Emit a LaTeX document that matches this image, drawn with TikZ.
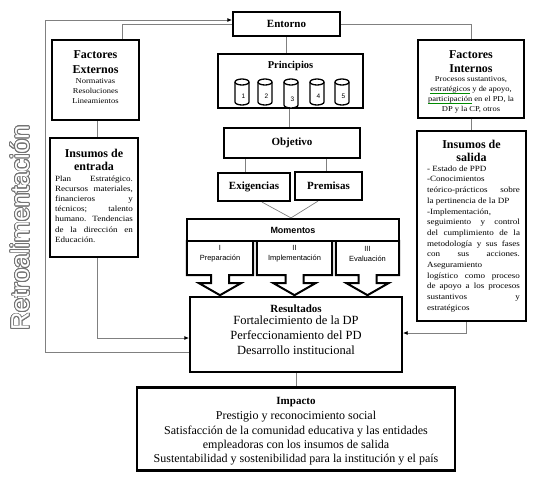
\documentclass[tikz,border=0pt]{standalone}
\usepackage{fontspec}
\setmainfont{Liberation Serif}
\newfontfamily\arial{Liberation Sans}
\newfontfamily\bodyfont[FakeStretch=1.13]{Liberation Serif}
\usepackage[copies]{contour}
\usetikzlibrary{arrows.meta}
\newsavebox\spellbox
\newcommand\spellul[1]{\sbox\spellbox{#1}\rlap{\color{green!55!black}\rule[-1.6pt]{\wd\spellbox}{0.5pt}}\usebox\spellbox}
\contourlength{0.75pt}
\contournumber{24}
\begin{document}
\begin{tikzpicture}[x=1pt,y=-1pt,
  box/.style={draw, line width=2.2pt, fill=white, inner sep=0pt},
  slot/.style={inner sep=0pt},
  cal/.style={draw, line width=2pt, fill=white, line join=miter},
  conn/.style={draw=black!50, line width=0.7pt},
  arr/.style={conn, -{Latex[length=4.5pt,width=4pt,color=black]}},
  lbl/.style={inner sep=1pt, align=center},
  ttl/.style={lbl, font=\bfseries\fontsize{12}{14}\selectfont},
  small/.style={lbl, font=\bodyfont\fontsize{7.5}{10}\selectfont},
  body/.style={inner sep=0pt, align=justify, font=\bodyfont\fontsize{8}{10.2}\selectfont},
]
\useasboundingbox (0,0) rectangle (544,482);

\node[box, minimum width=107pt, minimum height=24pt] (ent) at (286.5,24) {};
\node[box, minimum width=87pt, minimum height=80pt] (fe) at (95.5,80) {};
\node[box, minimum width=106pt, minimum height=78pt] (fi) at (471,79) {};
\node[box, minimum width=145pt, minimum height=54pt] (pri) at (290.5,81) {};
\node[box, minimum width=136pt, minimum height=30pt] (obj) at (292,143) {};
\node[box, minimum width=72pt, minimum height=28pt] (exi) at (254,187) {};
\node[box, minimum width=67pt, minimum height=28pt] (pre) at (328.5,186) {};
\node[box, minimum width=88pt, minimum height=119pt] (ie) at (94,197.5) {};
\node[box, minimum width=109pt, minimum height=190pt] (is) at (471.5,226) {};
\node[box, minimum width=212pt, minimum height=75pt] (res) at (296,334.5) {};
\node[box, minimum width=318pt, minimum height=83pt] (imp) at (296,429) {};

% callouts of Momentos
\node[slot, minimum width=66pt, minimum height=34pt] (c1) at (220,258) {};
\node[slot, minimum width=75pt, minimum height=34pt] (c2) at (294.5,258) {};
\node[slot, minimum width=63pt, minimum height=34pt] (c3) at (367.5,258) {};
\foreach \c in {c1,c2,c3}
  \draw[cal] (\c.north west) -- (\c.north east) -- (\c.south east)
    -- ([xshift=9pt]\c.south) -- ++(0,8) -- ++(12,0) -- ++(-21,12)
    -- ++(-21,-12) -- ++(12,0) -- ++(0,-8) -- (\c.south west) -- cycle;
\node[box, minimum width=212pt, minimum height=22pt] (mom) at (293,230) {};

% connectors
\draw[arr] (res.west |- 0,352) -| (45,20) -- (ent.west |- 0,20);
\draw[conn] (fe.north -| 122,0) |- (ent.west |- 0,24);
\draw[conn] (ent.east) -| (fi.north);
\draw[conn] (ent.south) -- (ent.south |- pri.north);
\draw[conn] (pri.south -| 289,0) -- (obj.north -| 289,0);
\draw[conn] (obj.south -| 245,0) -- (exi.north -| 245,0);
\draw[conn] (obj.south -| 326,0) -- (pre.north -| 326,0);
\draw[conn] (exi.south -| 262,0) -- (mom.north -| 291,0);
\draw[conn] (pre.south -| 318,0) -- (mom.north -| 291,0);
\draw[conn] (fe.south -| 97,0) -- (ie.north -| 97,0);
\draw[arr] (ie.south -| 97,0) |- (res.west |- 0,338);
\draw[conn] (fi.south) -- (fi.south |- is.north);
\draw[arr] (is.south -| 466,0) |- (res.east |- 0,333);
\draw[conn] (res.south) -- (res.south |- imp.north);

% cylinders in Principios
\foreach \n/\x/\b in {1/242/102,2/265/102,3/291/105,4/317/102,5/342/102}{
  \draw[line width=1.3pt, fill=white] (\x-7,82) -- (\x-7,\b)
     arc[start angle=180, end angle=0, x radius=7, y radius=3] -- (\x+7,82);
  \draw[line width=1.3pt, fill=white] (\x,82) ellipse[x radius=7, y radius=3];
  \node[inner sep=0pt, font=\arial\fontsize{6.5}{7}\selectfont] (n\n) at (\x+1.5,\b-6) {\n};
}

% ---------- texts ----------
\node[lbl, font=\bfseries\fontsize{11}{13}\selectfont] (entT) at (ent) {Entorno};

\node[ttl, anchor=north, font=\bfseries\fontsize{12}{15}\selectfont] (feT) at ([yshift=-11pt]fe.north) {Factores\\Externos};
\node[small, anchor=north] (feB) at ([yshift=-2pt]feT.south) {Normativas\\Resoluciones\\Lineamientos};

\node[ttl, anchor=north] (fiT) at ([yshift=-11pt]fi.north) {Factores\\Internos};
\node[small, anchor=north] (fiB) at ([yshift=-1pt]fiT.south) {Procesos sustantivos,\\\spellul{estratégicos} y de apoyo,\\\spellul{participación} en el PD, la\\DP y la CP, otros};

\node[lbl, font=\bfseries\fontsize{10.5}{12}\selectfont] (priT) at (290.5,66) {Principios};
\node[lbl, font=\bfseries\fontsize{11}{13}\selectfont] (objT) at (obj) {Objetivo};
\node[lbl, font=\bfseries\fontsize{11}{13}\selectfont] (exiT) at (exi) {Exigencias};
\node[lbl, font=\bfseries\fontsize{11}{13}\selectfont] (preT) at (pre) {Premisas};

\node[lbl, font=\arial\bfseries\fontsize{9}{11}\selectfont] (momT) at (mom) {Momentos};
\node[lbl, font=\arial\fontsize{7.5}{10}\selectfont] (c1T) at ([yshift=4pt]c1.center) {I\\Preparación};
\node[lbl, font=\arial\fontsize{7.5}{10}\selectfont] (c2T) at ([yshift=4pt]c2.center) {II\\Implementación};
\node[lbl, font=\arial\fontsize{7.5}{10}\selectfont] (c3T) at ([yshift=4pt]c3.center) {III\\Evaluación};

\node[ttl, anchor=north, font=\bfseries\fontsize{12}{13.5}\selectfont] (ieT) at ([yshift=-11pt]ie.north) {Insumos de\\entrada};
\node[body, anchor=north, text width=78pt] (ieB) at ([yshift=-3pt]ieT.south) {\hyphenpenalty=10000 \exhyphenpenalty=10000
Plan Estratégico.\linebreak
Recursos materiales,\linebreak
financieros y\linebreak
técnicos; talento\linebreak
humano. Tendencias\linebreak
de la dirección en\linebreak
Educación.};

\node[ttl, anchor=north, font=\bfseries\fontsize{12}{12.8}\selectfont] (isT) at ([yshift=-9pt]is.north) {Insumos de\\salida};
\node[body, anchor=north, text width=93pt, font=\bodyfont\fontsize{8}{10.7}\selectfont] (isB) at ([xshift=2pt,yshift=-3pt]isT.south) {\hyphenpenalty=10000 \exhyphenpenalty=10000
- Estado de PPD\newline
-Conocimientos\newline
teórico-prácticos sobre\linebreak
la pertinencia de la DP\newline
-Implementación,\newline
seguimiento y control\linebreak
del cumplimiento de la\linebreak
metodología y sus fases\linebreak
con sus acciones.\linebreak
Aseguramiento\newline
logístico como proceso\linebreak
de apoyo a los procesos\linebreak
sustantivos y\linebreak
estratégicos};

\node[lbl, anchor=north, font=\bfseries\fontsize{11}{13}\selectfont] (resT) at ([yshift=-8pt]res.north) {Resultados};
\node[lbl, anchor=north, font=\fontsize{12.5}{14.7}\selectfont] (resB) at ([yshift=-1pt]resT.south) {Fortalecimiento de la DP\\Perfeccionamiento del PD\\Desarrollo institucional};

\node[lbl, anchor=north, font=\bfseries\fontsize{11}{13}\selectfont] (impT) at ([yshift=-10pt]imp.north) {Impacto};
\node[lbl, anchor=north, font=\fontsize{12}{14.2}\selectfont] (impB) at ([yshift=-2pt]impT.south) {Prestigio y reconocimiento social\\Satisfacción de la comunidad educativa y las entidades\\empleadoras con los insumos de salida\\Sustentabilidad y sostenibilidad para la institución y el país};

\node[inner sep=0pt, rotate=90, text=white, font=\arial\fontsize{25.5}{27}\selectfont] (retro) at (20,228) {\contour{black!55}{Retroalimentación}};
\end{tikzpicture}
\end{document}
